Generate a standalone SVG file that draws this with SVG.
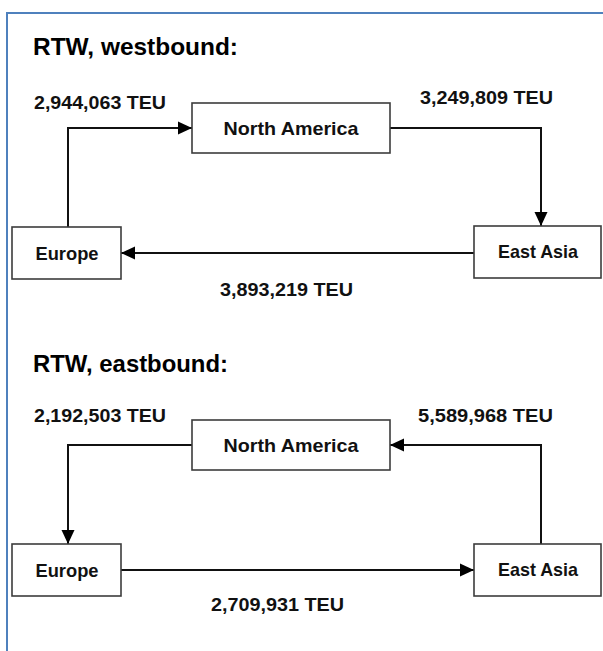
<svg xmlns="http://www.w3.org/2000/svg" width="603" height="651" viewBox="0 0 603 651">
<style>
.frame{fill:none;stroke:#4f81bd;stroke-width:2}
.box{fill:#fff;stroke:#3c3c3c;stroke-width:1.6}
.conn{fill:none;stroke:#111;stroke-width:2}
.title{font-family:"Liberation Sans",Arial,sans-serif;font-weight:bold;font-size:24px;fill:#000}
.lbl{font-family:"Liberation Sans",Arial,sans-serif;font-weight:bold;font-size:18px;fill:#111}
.node{font-family:"Liberation Sans",Arial,sans-serif;font-weight:bold;font-size:19px;fill:#111;text-anchor:middle}
</style>
<defs>
<marker id="ah" markerUnits="userSpaceOnUse" markerWidth="16" markerHeight="14" refX="14" refY="7" orient="auto">
<path d="M0,0.5 L14,7 L0,13.5 Z" fill="#000"/>
</marker>
</defs>
<rect class="frame" x="7" y="13" width="620" height="660"/>
<text class="title" x="33" y="55" textLength="205" lengthAdjust="spacingAndGlyphs">RTW, westbound:</text>
<text class="title" x="33" y="372" textLength="195" lengthAdjust="spacingAndGlyphs">RTW, eastbound:</text>
<g id="connectors">
<path class="conn" d="M68,227 V128 H192" marker-end="url(#ah)"/>
<path class="conn" d="M390,128 H541 V226" marker-end="url(#ah)"/>
<path class="conn" d="M474,253 H121" marker-end="url(#ah)"/>
<path class="conn" d="M192,445 H68 V544" marker-end="url(#ah)"/>
<path class="conn" d="M541,544 V445 H390" marker-end="url(#ah)"/>
<path class="conn" d="M121,570 H474" marker-end="url(#ah)"/>
</g>
<g id="labels">
<text class="lbl" x="34" y="109" textLength="132" lengthAdjust="spacingAndGlyphs">2,944,063 TEU</text>
<text class="lbl" x="420" y="104" textLength="133" lengthAdjust="spacingAndGlyphs">3,249,809 TEU</text>
<text class="lbl" x="220" y="296" textLength="133" lengthAdjust="spacingAndGlyphs">3,893,219 TEU</text>
<text class="lbl" x="34" y="422" textLength="132" lengthAdjust="spacingAndGlyphs">2,192,503 TEU</text>
<text class="lbl" x="418" y="422" textLength="135" lengthAdjust="spacingAndGlyphs">5,589,968 TEU</text>
<text class="lbl" x="211" y="611" textLength="133" lengthAdjust="spacingAndGlyphs">2,709,931 TEU</text>
</g>
<g id="west-north-america">
<rect class="box" x="192" y="103" width="198" height="50"/>
<text class="node" x="291" y="135" textLength="135" lengthAdjust="spacingAndGlyphs">North America</text>
</g>
<g id="west-europe">
<rect class="box" x="12" y="227" width="109" height="52"/>
<text class="node" x="67" y="260" textLength="63" lengthAdjust="spacingAndGlyphs">Europe</text>
</g>
<g id="west-east-asia">
<rect class="box" x="474" y="226" width="127" height="52"/>
<text class="node" x="538" y="258" textLength="80" lengthAdjust="spacingAndGlyphs">East Asia</text>
</g>
<g id="east-north-america">
<rect class="box" x="192" y="420" width="198" height="50"/>
<text class="node" x="291" y="452" textLength="135" lengthAdjust="spacingAndGlyphs">North America</text>
</g>
<g id="east-europe">
<rect class="box" x="12" y="544" width="109" height="52"/>
<text class="node" x="67" y="577" textLength="63" lengthAdjust="spacingAndGlyphs">Europe</text>
</g>
<g id="east-east-asia">
<rect class="box" x="474" y="544" width="127" height="52"/>
<text class="node" x="538" y="576" textLength="80" lengthAdjust="spacingAndGlyphs">East Asia</text>
</g>
</svg>
